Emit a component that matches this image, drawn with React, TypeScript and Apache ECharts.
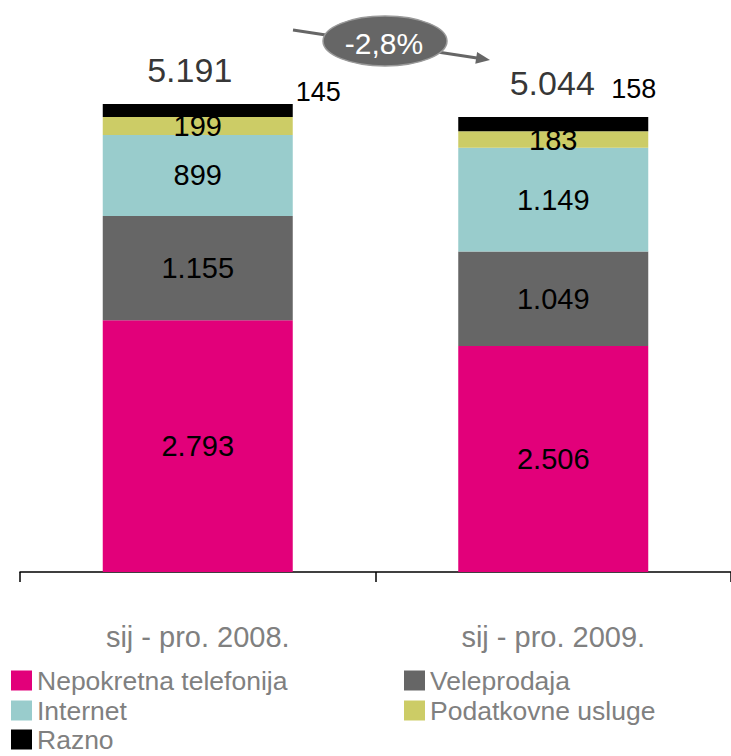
import React, { useEffect, useRef } from "react";
import * as echarts from "echarts";

const categories = ["sij - pro. 2008.", "sij - pro. 2009."];
const seriesNames = ["Nepokretna telefonija", "Veleprodaja", "Internet", "Podatkovne usluge", "Razno"];
const nepokretna = [2793, 2506];
const veleprodaja = [1155, 1049];
const internet = [899, 1149];
const podatkovne = [199, 183];
const razno = [145, 158];
const totals = [5191, 5044];
const changeLabel = "-2,8%";
const colors = ["#E2007A", "#666666", "#99CCCC", "#CCCC66", "#000000"];

const FONT = '"Liberation Sans", Arial, sans-serif';

const fmt = (v: number) =>
  v >= 1000 ? Math.floor(v / 1000) + "." + String(v % 1000).padStart(3, "0") : String(v);

export default function App() {
  const ref = useRef<HTMLDivElement>(null);
  useEffect(() => {
    if (!ref.current) return;
    const chart = echarts.init(ref.current, undefined, { renderer: "svg" });
    const data = [nepokretna, veleprodaja, internet, podatkovne, razno];
    const barSeries = seriesNames.map((name, i) => ({
      name,
      type: "bar",
      stack: "total",
      barWidth: 190,
      itemStyle: { color: colors[i] },
      label: {
        show: i < 4,
        position: "inside",
        color: "#000",
        fontFamily: FONT,
        fontSize: 29,
        formatter: (p: any) => fmt(p.value),
      },
      data:
        i === 4
          ? data[i].map((v, j) => ({
              value: v,
              label: {
                show: true,
                position: "right",
                distance: j === 0 ? 3 : 5,
                offset: j === 0 ? [0, -18] : [-42, -35],
                color: "#000",
                fontFamily: FONT,
                fontSize: 27,
                formatter: (p: any) => fmt(p.value),
              },
            }))
          : data[i],
    }));
    // legend placement: [series index, left, row top]
    const legendPlaces: [number, number, number][] = [
      [0, 11, 667],
      [1, 404, 667],
      [2, 11, 697],
      [3, 404, 697],
      [4, 11, 726],
    ];
    const legends = legendPlaces.map(([si, left, top]) => ({
      data: [seriesNames[si]],
      orient: "horizontal",
      left,
      top,
      padding: 0,
      itemWidth: 21,
      itemHeight: 20,
      icon: "rect",
      textStyle: { color: "#808080", fontFamily: FONT, fontSize: 26.5, lineHeight: 26 },
    }));
    chart.setOption({
      animation: false,
      grid: { left: 20, right: -4, top: 31, bottom: 184, containLabel: false },
      xAxis: {
        type: "category",
        data: categories,
        axisLine: { lineStyle: { color: "#000", width: 1.5 } },
        axisTick: { show: true, length: 10, lineStyle: { color: "#000", width: 1.5 } },
        axisLabel: {
          color: "#808080",
          fontFamily: FONT,
          fontSize: 29,
          lineHeight: 30,
          margin: 50,
        },
      },
      yAxis: { type: "value", min: 0, max: 6000, show: false, splitLine: { show: false } },
      legend: legends,
      series: [
        ...barSeries,
        {
          name: "Ukupno",
          type: "scatter",
          symbolSize: 0,
          z: 10,
          data: totals.map((v, j) => ({
            value: v,
            label: { offset: j === 0 ? [-8, 0] : [-1, 0] },
          })),
          label: {
            show: true,
            position: "top",
            distance: 16,
            color: "#000",
            fontFamily: FONT,
            fontSize: 34,
            lineHeight: 36,
            formatter: (p: any) => fmt(p.value),
          },
        },
      ],
      graphic: [
        {
          type: "line",
          shape: { x1: 293, y1: 30, x2: 477, y2: 58 },
          style: { stroke: "#666666", lineWidth: 3 },
          z: 1,
        },
        {
          type: "polygon",
          shape: { points: [[490, 60], [475.3, 63.8], [477.1, 52]] },
          style: { fill: "#666666" },
          z: 1,
        },
        {
          type: "ellipse",
          shape: { cx: 385, cy: 41, rx: 62, ry: 25 },
          style: { fill: "#666666", stroke: "#9a9a9a", lineWidth: 1.5 },
          z: 2,
        },
        {
          type: "text",
          x: 384,
          y: 43,
          z: 3,
          style: {
            text: changeLabel,
            fill: "#ffffff",
            font: `30px ${FONT}`,
            textAlign: "center",
            textVerticalAlign: "middle",
          },
        },
      ],
    });
    return () => chart.dispose();
  }, []);
  return (
    <div
      ref={ref}
      style={{ position: "fixed", left: 0, top: 0, width: 731, height: 756, background: "#fff" }}
    />
  );
}
